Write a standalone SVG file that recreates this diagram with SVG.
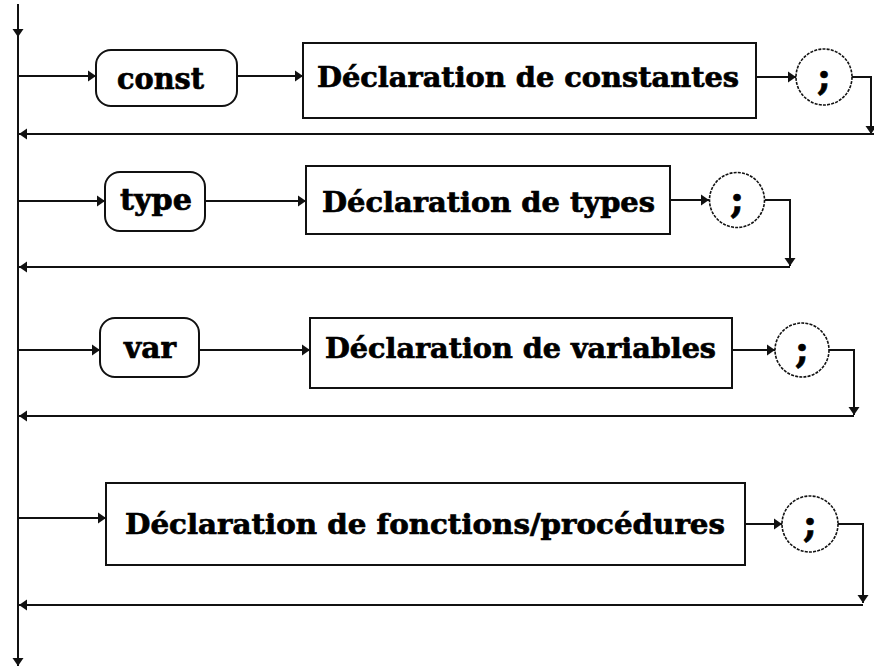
<svg xmlns="http://www.w3.org/2000/svg" width="874" height="668" viewBox="0 0 874 668">
<style>
.ln{fill:none;stroke:#111;stroke-width:2}
.box{fill:#fff;stroke:#111;stroke-width:2}
.kw{fill:#fff;stroke:#111;stroke-width:2}
.cir{fill:#fff;stroke:#111;stroke-width:1.6;stroke-dasharray:3 1.2}
.t{font-family:"DejaVu Serif","Liberation Serif",serif;font-weight:bold;fill:#000;stroke:#000;stroke-width:0.7}
.d{font-size:28px}
.k{font-size:30px}
.s{font-size:38px;text-anchor:middle}
</style>
<defs>
<marker id="ar" markerUnits="userSpaceOnUse" markerWidth="10" markerHeight="12" refX="8" refY="6" orient="auto">
<path d="M0,0.5 L8,6 L0,11.5 z" fill="#111"/>
</marker>
</defs>
<rect width="874" height="668" fill="#fff"/>
<g id="connectors">
<path class="ln" d="M18,4 L18,37" marker-end="url(#ar)"/>
<path class="ln" d="M18,37 L18,666" marker-end="url(#ar)"/>
<!-- row 1 -->
<path class="ln" d="M18,76 L96,76" marker-end="url(#ar)"/>
<path class="ln" d="M237,76 L303,76" marker-end="url(#ar)"/>
<path class="ln" d="M756,77 L796,77" marker-end="url(#ar)"/>
<path class="ln" d="M852,77 L871,77 L871,134" marker-end="url(#ar)"/>
<path class="ln" d="M874,134 L19,134" marker-end="url(#ar)"/>
<!-- row 2 -->
<path class="ln" d="M18,201 L105,201" marker-end="url(#ar)"/>
<path class="ln" d="M205,201 L306,201" marker-end="url(#ar)"/>
<path class="ln" d="M670,200 L709,200" marker-end="url(#ar)"/>
<path class="ln" d="M765,200 L790,200 L790,266" marker-end="url(#ar)"/>
<path class="ln" d="M790,267 L19,267" marker-end="url(#ar)"/>
<!-- row 3 -->
<path class="ln" d="M18,350 L100,350" marker-end="url(#ar)"/>
<path class="ln" d="M199,350 L310,350" marker-end="url(#ar)"/>
<path class="ln" d="M732,350 L775,350" marker-end="url(#ar)"/>
<path class="ln" d="M829,350 L854,350 L854,415" marker-end="url(#ar)"/>
<path class="ln" d="M854,416 L19,416" marker-end="url(#ar)"/>
<!-- row 4 -->
<path class="ln" d="M18,518 L106,518" marker-end="url(#ar)"/>
<path class="ln" d="M745,524 L782,524" marker-end="url(#ar)"/>
<path class="ln" d="M838,524 L863,524 L863,603" marker-end="url(#ar)"/>
<path class="ln" d="M863,605 L19,605" marker-end="url(#ar)"/>
</g>
<g id="kw-const">
<rect class="kw" x="96" y="50" width="141" height="56" rx="15"/>
<text class="t k" x="117" y="89" textLength="87" lengthAdjust="spacingAndGlyphs">const</text>
</g>
<g id="decl-constantes">
<rect class="box" x="303" y="43" width="453" height="75"/>
<text class="t d" x="317" y="87" textLength="422" lengthAdjust="spacingAndGlyphs">Déclaration de constantes</text>
</g>
<g id="semi-1">
<circle class="cir" cx="824" cy="77" r="28"/>
<text class="t s" x="824" y="89">;</text>
</g>
<g id="kw-type">
<rect class="kw" x="105" y="172" width="100" height="59" rx="15"/>
<text class="t k" x="120" y="210" textLength="72" lengthAdjust="spacingAndGlyphs">type</text>
</g>
<g id="decl-types">
<rect class="box" x="306" y="166" width="364" height="68"/>
<text class="t d" x="322" y="212" textLength="333" lengthAdjust="spacingAndGlyphs">Déclaration de types</text>
</g>
<g id="semi-2">
<circle class="cir" cx="737" cy="200" r="27.5"/>
<text class="t s" x="737" y="212">;</text>
</g>
<g id="kw-var">
<rect class="kw" x="100" y="318" width="99" height="59" rx="15"/>
<text class="t k" x="124" y="358" textLength="52" lengthAdjust="spacingAndGlyphs">var</text>
</g>
<g id="decl-variables">
<rect class="box" x="310" y="318" width="422" height="70"/>
<text class="t d" x="325" y="358" textLength="391" lengthAdjust="spacingAndGlyphs">Déclaration de variables</text>
</g>
<g id="semi-3">
<circle class="cir" cx="802" cy="350" r="27"/>
<text class="t s" x="802" y="362">;</text>
</g>
<g id="decl-fonctions">
<rect class="box" x="106" y="483" width="639" height="82"/>
<text class="t d" x="125" y="534" textLength="600" lengthAdjust="spacingAndGlyphs">Déclaration de fonctions/procédures</text>
</g>
<g id="semi-4">
<circle class="cir" cx="810" cy="524" r="28"/>
<text class="t s" x="810" y="536">;</text>
</g>
</svg>
